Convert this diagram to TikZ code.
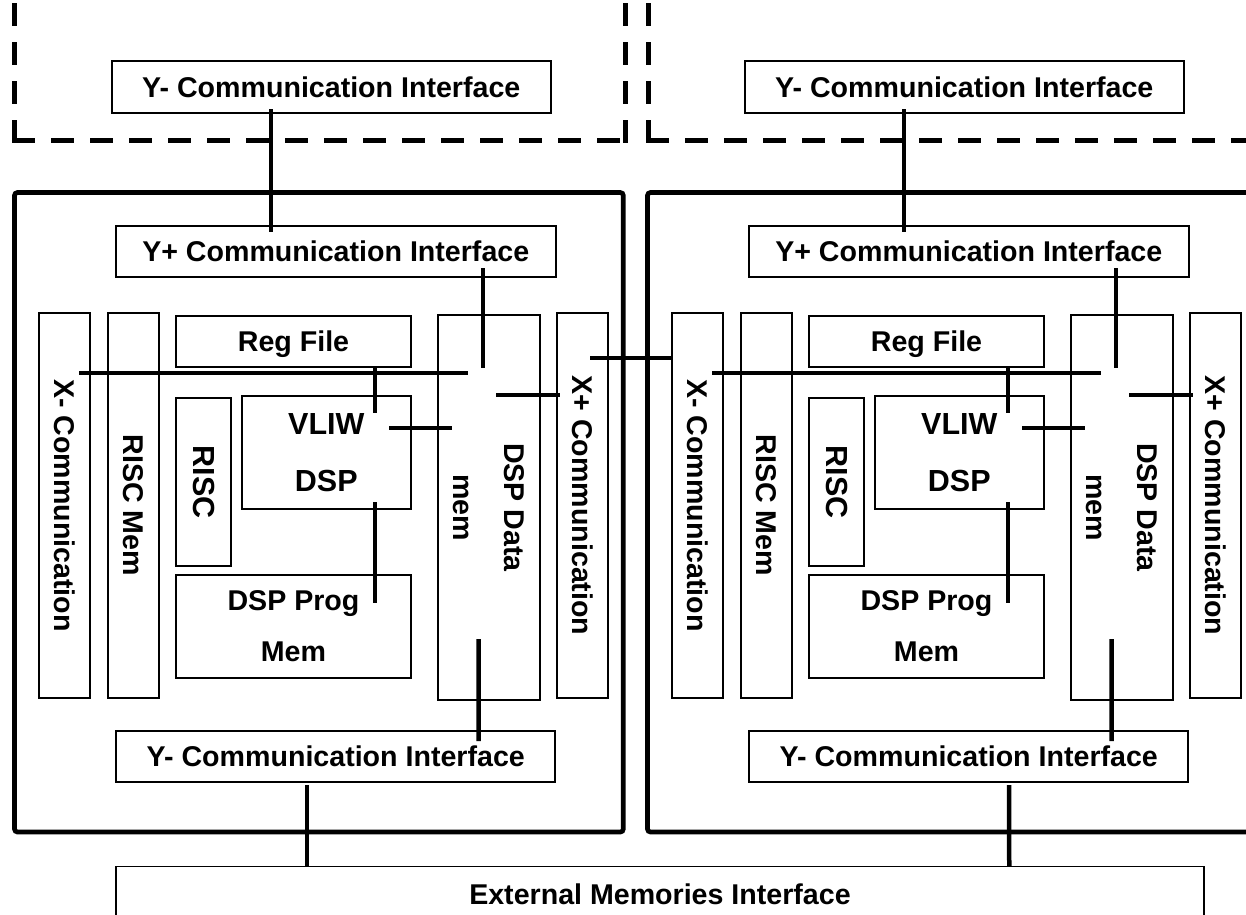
\documentclass[tikz,border=0pt]{standalone}
\usepackage{fontspec}
\setmainfont{Liberation Sans}
\usepackage{graphicx}
\usetikzlibrary{calc}
\newcommand\dspmodule[2]{%
\node[box, minimum width=439.5pt, minimum height=52pt] (#1ty) at ({#2+331.25},87) {Y- Communication Interface};
\node[outerbox, minimum width=608.8pt, minimum height=639.5pt] (#1ob) at ({#2+318.9},512.25) {};
\node[box, minimum width=439.5pt, minimum height=51pt] (#1yp) at ({#2+335.75},251.5) {Y+ Communication Interface};
\node[box, minimum width=439pt, minimum height=51pt] (#1ym) at ({#2+335.75},756.5) {Y- Communication Interface};
\node[box, minimum width=51pt, minimum height=385.3pt] (#1xm) at ({#2+64.3},505.35) {\rotatebox{-90}{X- Communication}};
\node[box, minimum width=51pt, minimum height=385.3pt] (#1rm) at ({#2+133.5},505.35) {\rotatebox{-90}{RISC Mem}};
\node[box, text depth=0pt, minimum width=235pt, minimum height=51pt] (#1rf) at ({#2+293.5},341.5) {Reg File};
\node[box, big, minimum width=55pt, minimum height=168pt] (#1risc) at ({#2+203.5},482) {\rotatebox{-90}{RISC}};
\node[box, big, minimum width=169.4pt, minimum height=113pt] (#1vliw) at ({#2+326.3},452.5) {VLIW\\DSP};
\node[box, minimum width=235pt, minimum height=103pt] (#1pm) at ({#2+293.5},626.5) {DSP Prog\\Mem};
\node[box, minimum width=102.4pt, minimum height=385pt] (#1dm) at ({#2+488.8},507.5) {\rotatebox{-90}{\parbox{200pt}{\centering DSP Data\\mem}}};
\node[box, minimum width=51pt, minimum height=385pt] (#1xp) at ({#2+582.5},505.5) {\rotatebox{-90}{X+ Communication}};
\draw[conn] ($(#1ty.south west)+(160.5,-5)$) -- ($(#1yp.north west)+(156,7)$);
\draw[conn] ($(#1yp.south west)+(368,-10)$) -- ($(#1dm.north west)+(46.4,54)$);
\draw[conn] ($(#1xm.north west)+(41.2,61.3)$) -- ($(#1dm.north west)+(30.9,59)$);
\draw[conn] ($(#1rf.south west)+(200,-2)$) -- ($(#1vliw.north west)+(134.4,18)$);
\draw[conn] ($(#1vliw.north west)+(148.4,33)$) -- ($(#1dm.north west)+(15.4,114)$);
\draw[conn] ($(#1dm.north west)+(59.4,81)$) -- ($(#1xp.north west)+(4,83)$);
\draw[conn] ($(#1vliw.south west)+(134.4,-8)$) -- ($(#1pm.north west)+(200,29)$);
\draw[conn] ($(#1dm.south west)+(42,-62)$) -- ($(#1ym.north west)+(363.4,11)$);
}
\begin{document}
\begin{tikzpicture}[x=1pt,y=-1pt,
  box/.style={draw, line width=2pt, inner sep=0pt, font=\fontsize{28.6}{51}\selectfont\bfseries, align=center},
  big/.style={font=\fontsize{30.5}{57.7}\selectfont\bfseries},
  conn/.style={line width=4.5pt},
  outerbox/.style={draw, line width=4.7pt, rounded corners=3pt, inner sep=0pt},
  dashedborder/.style={line width=5pt, dash pattern=on 18pt off 21pt, line cap=rect}]
\fill[white] (0,0) rectangle (1246,914);
\useasboundingbox (0,0) rectangle (1246,914);
% dashed outlines of the neighbouring modules above
\draw[dashedborder] (14.5,140.7) -- (14.5,-10);
\draw[dashedborder] (14.5,140.7) -- (625.5,140.7);
\draw[dashedborder] (625.5,140.7) -- (625.5,-10);
\draw[dashedborder] (648,140.7) -- (648,-10);
\draw[dashedborder] (648,140.7) -- (1260,140.7);
\dspmodule{L}{0}
\dspmodule{R}{633}
\node[box, line width=1.5pt, minimum width=1088pt, minimum height=54.6pt] (ext) at (660,894) {External Memories Interface};
\draw[conn] ($(Lxp.north west)+(34,46)$) -- ($(Rxm.north west)+(0.2,46.3)$);
\draw[conn] ($(Lym.south west)+(191.5,2)$) -- ($(ext.north west)+(191.5,0)$);
\draw[conn] ($(Rym.south west)+(260.75,2)$) -- ($(ext.north west)+(894,0)$);
\end{tikzpicture}
\end{document}
